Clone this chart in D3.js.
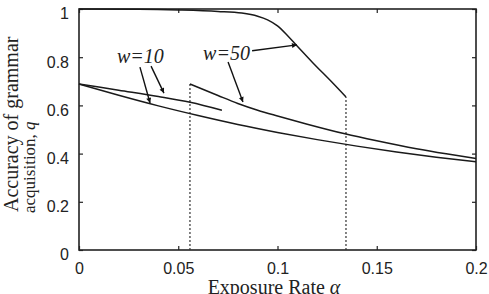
<!DOCTYPE html>
<html>
<head>
<meta charset="utf-8">
<script src="https://cdn.jsdelivr.net/npm/d3@7"></script>
<style>
  body { margin: 0; background: #fff; }
  svg { display: block; }
</style>
</head>
<body>
<div id="viz"></div>
<script>
(function() {

    var width = 489;
    var height = 294;

    //Tick labels
    var xTicks = [0, 0.05, 0.1, 0.15, 0.2];
    var yTicks = [0, 0.2, 0.4, 0.6, 0.8, 1];

    //Lower w=10 curve (whole range)
    var w10LowAlpha = [0, 0.02, 0.04, 0.06, 0.08, 0.1, 0.12, 0.14, 0.16, 0.18, 0.2];
    var w10LowQ = [0.689, 0.642, 0.598, 0.558, 0.521, 0.488, 0.458, 0.431, 0.407, 0.385, 0.366];

    //Upper w=10 branch (ends early)
    var w10UpAlpha = [0, 0.02, 0.04, 0.056, 0.072];
    var w10UpQ = [0.689, 0.663, 0.637, 0.613, 0.580];

    //w=50 lower branch, starts at the first jump
    var w50LowAlpha = [0.0559, 0.07, 0.08, 0.09, 0.1, 0.115, 0.134, 0.15, 0.17, 0.185, 0.2];
    var w50LowQ = [0.689, 0.641, 0.608, 0.580, 0.556, 0.522, 0.482, 0.453, 0.420, 0.399, 0.380];

    //w=50 upper branch, near 1 then dropping
    var w50UpAlpha = [0, 0.03, 0.05, 0.07, 0.082, 0.09, 0.095, 0.1, 0.105, 0.11, 0.118, 0.127, 0.1345];
    var w50UpQ = [1.0, 0.999, 0.996, 0.990, 0.983, 0.970, 0.955, 0.930, 0.890, 0.845, 0.775, 0.700, 0.635];

    //Dotted jumps: alpha, top q
    var jumpAlpha = [0.0559, 0.1345];
    var jumpTop = [0.689, 0.635];

    //Annotation labels and arrows (tail alpha, tail q, tip alpha, tip q)
    var labelText = ["w=10", "w=50"];
    var labelAlpha = [0.0191, 0.0625];
    var labelQ = [0.776, 0.788];
    var arrowTail = [[0.0307, 0.759], [0.0363, 0.763], [0.0872, 0.827], [0.0751, 0.780]];
    var arrowTip = [[0.0358, 0.610], [0.0428, 0.651], [0.1098, 0.851], [0.0826, 0.614]];

    var svg = d3.select("#viz")
        .append("svg")
        .attr("width", width)
        .attr("height", height)
        .style("font-family", "'Liberation Sans', Arial, sans-serif");

    var x = d3.scaleLinear().domain([0, 0.2]).range([79, 476]);
    var y = d3.scaleLinear().domain([0, 1]).range([250, 9]);

    //Arrow head
    svg.append("defs").append("marker")
        .attr("id", "head")
        .attr("viewBox", "0 0 10 10")
        .attr("refX", 10)
        .attr("refY", 5)
        .attr("markerWidth", 8)
        .attr("markerHeight", 5)
        .attr("markerUnits", "userSpaceOnUse")
        .attr("orient", "auto")
        .append("path")
        .attr("d", "M0,0L10,5L0,10Z")
        .attr("fill", "#111");

    //Axes with inward ticks
    var bottom = svg.append("g")
        .attr("transform", "translate(0,250)")
        .call(d3.axisBottom(x).tickValues(xTicks).tickSizeInner(-4).tickSizeOuter(0).tickPadding(13)
            .tickFormat(function(d) { return d === 0 ? "0" : d3.format("")(+d.toFixed(2)); }));
    bottom.selectAll("text").attr("font-size", "16px").attr("fill", "#222");

    var left = svg.append("g")
        .attr("transform", "translate(79,0)")
        .call(d3.axisLeft(y).tickValues(yTicks).tickSizeInner(-4).tickSizeOuter(0).tickPadding(10)
            .tickFormat(function(d) { return d3.format("")(+d.toFixed(1)); }));
    left.selectAll("text").attr("font-size", "16px").attr("fill", "#222").attr("dy", "0.62em");

    svg.append("g")
        .attr("transform", "translate(0,9)")
        .call(d3.axisTop(x).tickValues(xTicks).tickSizeInner(-4).tickSizeOuter(0).tickFormat(""));

    svg.append("g")
        .attr("transform", "translate(476,0)")
        .call(d3.axisRight(y).tickValues(yTicks).tickSizeInner(-4).tickSizeOuter(0).tickFormat(""));

    svg.selectAll(".domain").remove();
    svg.selectAll(".tick line").attr("stroke", "#222").attr("stroke-width", 1.2);

    //Frame
    svg.append("rect")
        .attr("x", x(0))
        .attr("y", y(1))
        .attr("width", x(0.2) - x(0))
        .attr("height", y(0) - y(1))
        .attr("fill", "none")
        .attr("stroke", "#222")
        .attr("stroke-width", 1.6);

    //Dotted jump lines
    svg.selectAll(".jump")
        .data(jumpAlpha)
        .enter().append("line")
        .attr("class", "jump")
        .attr("x1", function(d) { return x(d); })
        .attr("x2", function(d) { return x(d); })
        .attr("y1", y(0))
        .attr("y2", function(d, i) { return y(jumpTop[i]); })
        .attr("stroke", "#333")
        .attr("stroke-width", 1.2)
        .attr("stroke-dasharray", "2,2");

    //Curves
    var line = d3.line()
        .x(function(d) { return x(d[0]); })
        .y(function(d) { return y(d[1]); })
        .curve(d3.curveMonotoneX);

    var curves = [
        d3.zip(w10LowAlpha, w10LowQ),
        d3.zip(w10UpAlpha, w10UpQ),
        d3.zip(w50LowAlpha, w50LowQ),
        d3.zip(w50UpAlpha, w50UpQ)
    ];

    svg.selectAll(".curve")
        .data(curves)
        .enter().append("path")
        .attr("class", "curve")
        .attr("d", line)
        .attr("fill", "none")
        .attr("stroke", "#1a1a1a")
        .attr("stroke-width", 1.5);

    //Annotations
    svg.selectAll(".note")
        .data(labelText)
        .enter().append("text")
        .attr("class", "note")
        .attr("x", function(d, i) { return x(labelAlpha[i]); })
        .attr("y", function(d, i) { return y(labelQ[i]); })
        .attr("font-family", "'Liberation Serif', 'Times New Roman', serif")
        .attr("font-style", "italic")
        .attr("font-size", "20px")
        .attr("fill", "#222")
        .text(function(d) { return d; });

    svg.selectAll(".arrow")
        .data(arrowTail)
        .enter().append("line")
        .attr("class", "arrow")
        .attr("x1", function(d) { return x(d[0]); })
        .attr("y1", function(d) { return y(d[1]); })
        .attr("x2", function(d, i) { return x(arrowTip[i][0]); })
        .attr("y2", function(d, i) { return y(arrowTip[i][1]); })
        .attr("stroke", "#111")
        .attr("stroke-width", 1.4)
        .attr("marker-end", "url(#head)");

    //Axis titles
    var xTitle = svg.append("text")
        .attr("x", 274)
        .attr("y", 294)
        .attr("text-anchor", "middle")
        .attr("font-family", "'Liberation Serif', 'Times New Roman', serif")
        .attr("font-size", "20px")
        .attr("fill", "#222");
    xTitle.append("tspan").text("Exposure Rate ");
    xTitle.append("tspan").attr("font-style", "italic").text("α");

    var yTitle = svg.append("g")
        .attr("font-family", "'Liberation Serif', 'Times New Roman', serif")
        .attr("fill", "#222");
    yTitle.append("text")
        .attr("transform", "translate(18,212) rotate(-90)")
        .attr("font-size", "20px")
        .text("Accuracy of grammar");
    var line2 = yTitle.append("text")
        .attr("transform", "translate(35,213) rotate(-90)")
        .attr("font-size", "17px");
    line2.append("tspan").text("acquisition, ");
    line2.append("tspan").attr("font-style", "italic").text("q");

})();
</script>
</body>
</html>
